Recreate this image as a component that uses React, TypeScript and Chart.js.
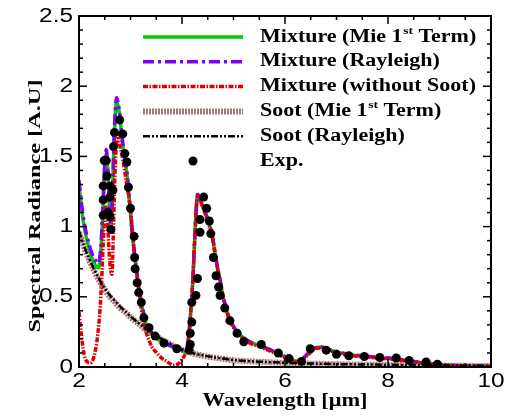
import React, { useEffect, useRef } from "react";
import { Chart, registerables } from "chart.js";

Chart.register(...registerables);

// Mixture spectra (Mie 1st term and Rayleigh) share one wavelength grid [µm]
const mixtureWavelength = [
  2.0, 2.05, 2.1, 2.15, 2.2, 2.25, 2.3, 2.35, 2.38, 2.41, 2.44, 2.47, 2.5, 2.53, 2.56, 2.59, 2.62, 2.65,
  2.68, 2.71, 2.73, 2.76, 2.79, 2.85, 2.94, 3.0, 3.05, 3.11, 3.18, 3.24, 3.31, 3.44, 3.57, 3.7, 3.83,
  3.96, 4.04, 4.08, 4.11, 4.14, 4.17, 4.21, 4.24, 4.27, 4.3, 4.35, 4.41, 4.5, 4.58, 4.64, 4.69, 4.74,
  4.8, 4.88, 5.0, 5.16, 5.32, 5.5, 5.7, 5.85, 6.0, 6.15, 6.27, 6.4, 6.55, 6.68, 6.85, 7.0, 7.25, 7.5,
  7.8, 8.1, 8.4, 8.7, 9.0, 9.3, 9.6, 10.0,
];

const mixtureRayleigh = [
  1.33, 1.16, 1.03, 0.94, 0.87, 0.81, 0.77, 0.745, 0.74, 0.8, 0.95, 1.2, 1.45, 1.55, 1.4, 1.15, 1.02, 1.25,
  1.62, 1.86, 1.92, 1.88, 1.81, 1.6, 1.36, 1.1, 0.9, 0.71, 0.53, 0.41, 0.31, 0.23, 0.19, 0.165, 0.145,
  0.13, 0.115, 0.12, 0.16, 0.26, 0.4, 0.62, 0.86, 1.08, 1.23, 1.2, 1.14, 1.05, 0.95, 0.82, 0.71, 0.62,
  0.5, 0.39, 0.29, 0.22, 0.18, 0.155, 0.125, 0.1, 0.075, 0.05, 0.04, 0.08, 0.13, 0.145, 0.125, 0.11, 0.09, 0.08,
  0.07, 0.06, 0.045, 0.03, 0.018, 0.01, 0.008, 0.006,
];

const mixtureMie = [
  1.3, 1.13, 1.0, 0.91, 0.84, 0.78, 0.735, 0.71, 0.705, 0.77, 0.92, 1.17, 1.42, 1.52, 1.38, 1.13, 1.0, 1.23,
  1.59, 1.83, 1.89, 1.86, 1.79, 1.58, 1.34, 1.09, 0.89, 0.7, 0.52, 0.4, 0.3, 0.225, 0.185, 0.16, 0.14,
  0.125, 0.112, 0.118, 0.158, 0.258, 0.398, 0.618, 0.858, 1.078, 1.226, 1.196, 1.136, 1.046, 0.946, 0.816, 0.706, 0.616,
  0.497, 0.387, 0.287, 0.218, 0.178, 0.153, 0.123, 0.098, 0.073, 0.049, 0.039, 0.078, 0.128, 0.143, 0.123, 0.108, 0.088, 0.078,
  0.068, 0.058, 0.044, 0.029, 0.017, 0.01, 0.008, 0.006,
];

// Mixture without soot
const noSootWavelength = [
  2.0, 2.04, 2.08, 2.12, 2.17, 2.22, 2.27, 2.32, 2.37, 2.41, 2.44, 2.47, 2.5, 2.52, 2.55, 2.58, 2.61, 2.64,
  2.67, 2.7, 2.73, 2.75, 2.78, 2.85, 2.92, 3.0, 3.06, 3.12, 3.18, 3.25, 3.34, 3.42, 3.51, 3.6, 3.7, 3.83,
  3.92, 3.99, 4.06, 4.11, 4.14, 4.17, 4.21, 4.24, 4.27, 4.3, 4.35, 4.41, 4.5, 4.58, 4.64, 4.69, 4.74, 4.8,
  4.88, 5.0, 5.16, 5.32, 5.5, 5.7, 5.85, 6.0, 6.15, 6.27, 6.4, 6.55, 6.68, 6.85, 7.0, 7.25, 7.5, 7.8, 8.1,
  8.4, 8.7, 9.0, 9.3, 9.6, 10.0,
];

const mixtureNoSoot = [
  0.39, 0.25, 0.13, 0.06, 0.035, 0.03, 0.05, 0.12, 0.25, 0.42, 0.62, 0.88, 1.08, 1.14, 1.05, 0.85, 0.7, 0.66,
  1.0, 1.4, 1.6, 1.65, 1.6, 1.48, 1.32, 1.12, 0.88, 0.68, 0.5, 0.32, 0.21, 0.14, 0.1, 0.065, 0.04, 0.015,
  0.02, 0.05, 0.09, 0.15, 0.25, 0.39, 0.61, 0.85, 1.07, 1.22, 1.19, 1.13, 1.04, 0.94, 0.81, 0.7, 0.61, 0.49,
  0.38, 0.28, 0.21, 0.17, 0.145, 0.115, 0.09, 0.065, 0.042, 0.033, 0.07, 0.12, 0.135, 0.118, 0.102, 0.083, 0.073, 0.064, 0.055,
  0.04, 0.026, 0.015, 0.008, 0.006, 0.005,
];

// Soot-only spectra
const sootWavelength = [
  2.0, 2.1, 2.2, 2.3, 2.4, 2.5, 2.6, 2.7, 2.8, 2.9, 3.0, 3.1, 3.2, 3.3, 3.45, 3.6, 3.8, 4.0, 4.2, 4.4,
  4.6, 4.8, 5.0, 5.5, 6.0, 6.5, 7.0, 7.5, 8.0, 8.5, 9.0, 9.5, 10.0,
];

const sootRayleigh = [
  0.97, 0.86, 0.77, 0.69, 0.62, 0.56, 0.51, 0.47, 0.43, 0.395, 0.36, 0.33, 0.3, 0.27, 0.235, 0.2, 0.16, 0.125, 0.1, 0.083,
  0.07, 0.06, 0.05, 0.038, 0.03, 0.025, 0.021, 0.018, 0.016, 0.013, 0.011, 0.009, 0.007,
];

const sootMie = [
  0.96, 0.85, 0.76, 0.68, 0.61, 0.55, 0.5, 0.46, 0.42, 0.39, 0.355, 0.325, 0.295, 0.265, 0.23, 0.196, 0.157, 0.122, 0.098, 0.081,
  0.068, 0.058, 0.048, 0.037, 0.029, 0.024, 0.02, 0.017, 0.015, 0.012, 0.01, 0.008, 0.006,
];

// Measured spectrum
const expWavelength = [
  2.47, 2.47, 2.47, 2.49, 2.53, 2.54, 2.56, 2.6, 2.6, 2.6, 2.62, 2.66, 2.67, 2.69, 2.79, 2.85, 2.89, 2.93,
  2.96, 3.0, 3.07, 3.08, 3.09, 3.13, 3.16, 3.21, 3.26, 3.36, 3.48, 3.65, 3.9, 4.14, 4.16, 4.16, 4.19, 4.19,
  4.27, 4.3, 4.35, 4.35, 4.42, 4.48, 4.53, 4.56, 4.61, 4.66, 4.71, 4.74, 4.83, 4.93, 5.07, 5.2, 5.54, 5.87,
  6.08, 6.32, 6.49, 6.8, 7.0, 7.24, 7.54, 7.84, 8.16, 8.41, 8.74, 8.96,
];

const expRadiance = [
  1.08, 1.19, 1.29, 1.47, 1.47, 1.36, 1.1, 1.07, 1.21, 1.29, 0.98, 1.26, 1.57, 1.67, 1.76, 1.66, 1.52, 1.46,
  1.28, 1.13, 0.93, 0.78, 0.7, 0.6, 0.53, 0.46, 0.35, 0.28, 0.22, 0.17, 0.13, 0.12, 0.16, 0.24, 0.32, 0.46,
  0.51, 0.63, 0.96, 1.05, 1.21, 1.13, 1.04, 0.95, 0.78, 0.65, 0.57, 0.51, 0.42, 0.33, 0.24, 0.18, 0.16, 0.1,
  0.06, 0.04, 0.13, 0.12, 0.09, 0.08, 0.075, 0.068, 0.064, 0.047, 0.036, 0.02,
];

const xTickValues = [2, 4, 6, 8, 10];
const xTickLabels = ["2", "4", "6", "8", "10"];
const yTickValues = [0, 0.5, 1, 1.5, 2, 2.5];
const yTickLabels = ["0", "0.5", "1", "1.5", "2", "2.5"];

const xTitle = "Wavelength [\u03bcm]";
const yTitle = "Spectral Radiance [A.U]";

// legend labels: [text, superscript, text]
const legendLabels: string[][] = [
  ["Mixture (Mie 1", "st", " Term)"],
  ["Mixture (Rayleigh)", "", ""],
  ["Mixture (without Soot)", "", ""],
  ["Soot (Mie 1", "st", " Term)"],
  ["Soot (Rayleigh)", "", ""],
  ["Exp.", "", ""],
];

type LineStyle = { color: string; width: number; dash: number[]; dot?: boolean };

const styles: LineStyle[] = [
  { color: "#00cc00", width: 3.5, dash: [] },
  { color: "#8000ff", width: 3.5, dash: [11, 4, 3, 4] },
  { color: "#e00000", width: 3.5, dash: [5, 1.5, 1.5, 1.5] },
  { color: "rgba(150,95,95,0.85)", width: 6, dash: [2, 1] },
  { color: "#000000", width: 2.5, dash: [7, 2, 2, 2, 2, 2] },
  { color: "#000000", width: 0, dash: [], dot: true },
];

const toPoints = (xs: number[], ys: number[]) => xs.map((x, i) => ({ x, y: ys[i] }));

const SERIF = '"Liberation Serif", "Times New Roman", serif';
const SANS = '"Liberation Sans", Arial, sans-serif';

function fitText(ctx: CanvasRenderingContext2D, text: string, width: number) {
  return width / ctx.measureText(text).width;
}

const decorPlugin = {
  id: "decor",
  afterDatasetsDraw(chart: any) {
    const { ctx, chartArea: a, scales } = chart;
    const xs = scales.x;
    const ys = scales.y;
    ctx.save();
    ctx.strokeStyle = "#000";
    ctx.fillStyle = "#000";

    const seg = (x1: number, y1: number, x2: number, y2: number) => {
      ctx.beginPath();
      ctx.moveTo(x1, y1);
      ctx.lineTo(x2, y2);
      ctx.stroke();
    };

    // inward ticks on all four sides
    ctx.lineWidth = 1.5;
    for (let k = 0; k <= 16; k++) {
      const v = 2 + k * 0.5;
      const px = xs.getPixelForValue(v);
      const len = k % 4 === 0 ? 8 : 4;
      seg(px, a.bottom, px, a.bottom - len);
      seg(px, a.top, px, a.top + len);
    }
    for (let k = 0; k <= 25; k++) {
      const v = k * 0.1;
      const py = ys.getPixelForValue(v);
      const len = k % 5 === 0 ? 8 : 4;
      seg(a.left, py, a.left + len, py);
      seg(a.right, py, a.right - len, py);
    }

    // frame
    ctx.lineWidth = 2;
    ctx.strokeRect(a.left, a.top, a.right - a.left, a.bottom - a.top);

    // tick labels
    const sx = 1.22;
    ctx.font = `20px ${SANS}`;
    ctx.textBaseline = "middle";
    ctx.textAlign = "center";
    xTickValues.forEach((v, i) => {
      ctx.save();
      ctx.translate(xs.getPixelForValue(v), a.bottom + 14);
      ctx.scale(sx, 1);
      ctx.fillText(xTickLabels[i], 0, 0);
      ctx.restore();
    });
    ctx.textAlign = "right";
    yTickValues.forEach((v, i) => {
      ctx.save();
      ctx.translate(a.left - 6, ys.getPixelForValue(v));
      ctx.scale(sx, 1);
      ctx.fillText(yTickLabels[i], 0, 0);
      ctx.restore();
    });

    // axis titles
    ctx.font = `bold 18px ${SERIF}`;
    ctx.textAlign = "center";
    ctx.save();
    ctx.translate((a.left + a.right) / 2, a.bottom + 34);
    ctx.scale(fitText(ctx, xTitle, 165), 1);
    ctx.fillText(xTitle, 0, 0);
    ctx.restore();

    ctx.font = `bold 17px ${SERIF}`;
    ctx.save();
    ctx.translate(36, 206);
    ctx.rotate(-Math.PI / 2);
    ctx.scale(fitText(ctx, yTitle, 253), 1);
    ctx.fillText(yTitle, 0, 0);
    ctx.restore();

    // legend
    const mainFont = `bold 18px ${SERIF}`;
    const supFont = `bold 11px ${SERIF}`;
    ctx.font = mainFont;
    const lsx = fitText(ctx, "Mixture (without Soot)", 216);
    legendLabels.forEach((parts, i) => {
      const y = 37 + i * 24.8;
      const st = styles[i];
      if (st.dot) {
        ctx.beginPath();
        ctx.arc(193, y, 4.5, 0, Math.PI * 2);
        ctx.fill();
      } else {
        ctx.save();
        ctx.strokeStyle = st.color;
        ctx.lineWidth = st.width;
        ctx.setLineDash(st.dash);
        seg(143, y, 243, y);
        ctx.restore();
      }
      ctx.save();
      ctx.translate(260, y);
      ctx.scale(lsx, 1);
      ctx.textAlign = "left";
      ctx.textBaseline = "middle";
      let cx = 0;
      ctx.font = mainFont;
      ctx.fillText(parts[0], cx, 0);
      cx += ctx.measureText(parts[0]).width;
      if (parts[1]) {
        ctx.font = supFont;
        ctx.fillText(parts[1], cx + 0.5, -6);
        cx += ctx.measureText(parts[1]).width + 0.5;
        ctx.font = mainFont;
        ctx.fillText(parts[2], cx, 0);
      }
      ctx.restore();
    });

    ctx.restore();
  },
};

export default function App() {
  const canvasRef = useRef<HTMLCanvasElement | null>(null);

  useEffect(() => {
    const canvas = canvasRef.current;
    if (!canvas) return;

    const line = (label: string, data: { x: number; y: number }[], st: LineStyle, order: number) => ({
      type: "line" as const,
      label,
      data,
      order,
      borderColor: st.color,
      borderWidth: st.width,
      borderDash: st.dash,
      pointRadius: 0,
      fill: false,
      cubicInterpolationMode: "monotone" as const,
    });

    const chart = new Chart(canvas, {
      type: "line",
      data: {
        datasets: [
          {
            type: "scatter" as const,
            label: "Exp.",
            data: toPoints(expWavelength, expRadiance),
            order: 0,
            pointRadius: 4.5,
            pointBackgroundColor: "#000",
            pointBorderWidth: 0,
            showLine: false,
          } as any,
          line("Soot (Rayleigh)", toPoints(sootWavelength, sootRayleigh), styles[4], 1),
          line("Mixture (without Soot)", toPoints(noSootWavelength, mixtureNoSoot), styles[2], 2),
          line("Mixture (Rayleigh)", toPoints(mixtureWavelength, mixtureRayleigh), styles[1], 3),
          line("Mixture (Mie 1st Term)", toPoints(mixtureWavelength, mixtureMie), styles[0], 4),
          line("Soot (Mie 1st Term)", toPoints(sootWavelength, sootMie), styles[3], 5),
        ],
      },
      options: {
        responsive: false,
        animation: false,
        devicePixelRatio: 1,
        layout: { padding: { left: 79, right: 23, top: 16, bottom: 50 } },
        plugins: { legend: { display: false }, tooltip: { enabled: false } },
        scales: {
          x: { type: "linear", min: 2, max: 10, display: false },
          y: { type: "linear", min: 0, max: 2.5, display: false },
        },
      },
      plugins: [decorPlugin],
    });

    return () => chart.destroy();
  }, []);

  return (
    <div style={{ position: "fixed", left: 0, top: 0, width: 514, height: 417, background: "#fff" }}>
      <canvas ref={canvasRef} width={514} height={417} style={{ display: "block" }} />
    </div>
  );
}
